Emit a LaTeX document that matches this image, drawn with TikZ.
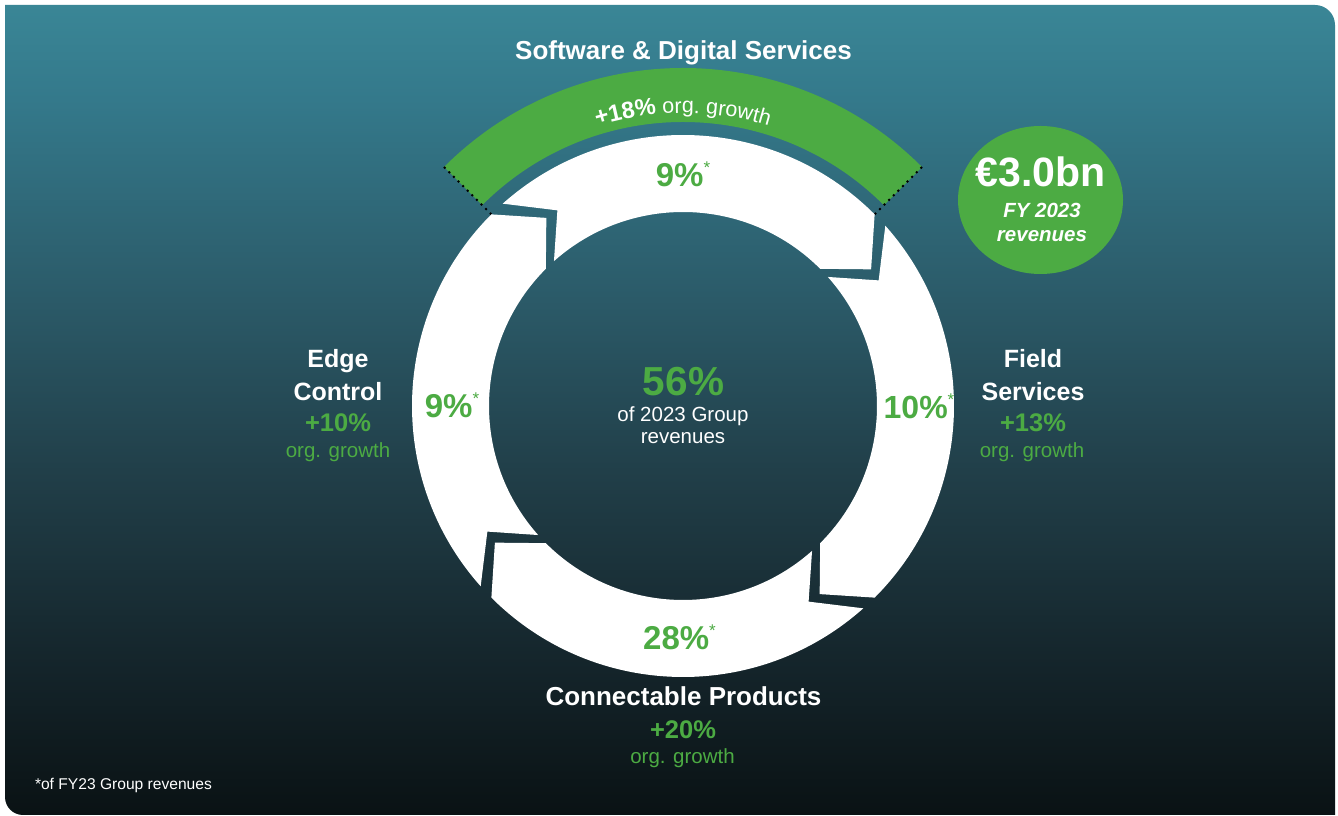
\documentclass[tikz,border=0pt]{standalone}
\usepackage{fontspec}
\setmainfont{Liberation Sans}
\usetikzlibrary{decorations.text}
\definecolor{brandgreen}{HTML}{4CAB43}
\definecolor{bgA}{HTML}{0A1214}
\definecolor{bgB}{HTML}{14242A}
\definecolor{bgC}{HTML}{213F49}
\definecolor{bgD}{HTML}{2B5A68}
\definecolor{bgE}{HTML}{34798B}
\definecolor{bgF}{HTML}{3A8696}
\pgfdeclareverticalshading{bgshade}{100bp}{color(0bp)=(bgA); color(25bp)=(bgA); color(34bp)=(bgB); color(46.25bp)=(bgC); color(56.8bp)=(bgD); color(69.2bp)=(bgE); color(75bp)=(bgF); color(100bp)=(bgF)}
\newcommand\pctstar{\raisebox{13pt}{\mdseries\fontsize{17}{17}\selectfont *}}
\tikzset{
  txt/.style={anchor=base, inner sep=0pt, outer sep=0pt},
  lbl/.style={txt, text=white, font=\bfseries\fontsize{25}{25}\selectfont},
  grw/.style={txt, text=brandgreen, font=\bfseries\fontsize{25.5}{25.5}\selectfont},
  org/.style={txt, text=brandgreen, font=\fontsize{20.5}{20.5}\selectfont},
  pct/.style={txt, text=brandgreen, font=\bfseries\fontsize{33}{33}\selectfont},
  seg/.style={fill=white},
  dots/.style={black, line width=2pt, dash pattern=on 2pt off 4.5pt}
}
\begin{document}
\begin{tikzpicture}[x=1pt,y=1pt]
\useasboundingbox (0,0) rectangle (1338,816);
\fill[white] (0,0) rectangle (1338,816);
\shade[shading=bgshade] (5,811) -- (1315,811) arc[start angle=90,end angle=0,radius=20]
  -- (1335,1) -- (23,1) arc[start angle=270,end angle=180,radius=18] -- cycle;

\begin{scope}[shift={(683,410)}]
  % green arc
  \fill[brandgreen] (135:338) arc[start angle=135,end angle=45,radius=338]
    -- (45:284) arc[start angle=45,end angle=135,radius=284] -- cycle;
  \draw[dots] (135:271) -- (135:338);
  \draw[dots] (45:271) -- (45:338);
  % ring segments (tail angle / head angle)
  \foreach \a/\b in {131.7/45, 41.7/-45, -48.3/-135, -138.3/-225}{
    \fill[seg] (\a:271) arc[start angle=\a,end angle=\b,radius=271]
      -- ({\b-9}:232.5) -- (\b:194) arc[start angle=\b,end angle=\a,radius=194]
      -- ({\a-9}:232.5) -- cycle;
  }
  % curved text
  \path[decorate, decoration={text along path, text align=center, text color=white,
    text={|\fontsize{23.5}{23.5}\selectfont\bfseries|+18{\%}|\fontsize{21.5}{21.5}\selectfont\mdseries| org. growth}}]
    (121:293) arc[start angle=121,end angle=59,radius=293];
\end{scope}

% top label
\node[lbl, font=\bfseries\fontsize{26}{26}\selectfont] (sds) at (683.5,756) {Software \& Digital Services};

% percentages on ring
\node[pct] (ptop) at (683,629) {9\%\pctstar};
\node[pct] (pleft) at (452,398) {9\%\pctstar};
\node[pct, font=\bfseries\fontsize{32}{32}\selectfont] (pright) at (919,397) {10\%\pctstar};
\node[pct] (pbot) at (679.5,166) {28\%\pctstar};

% centre
\node[txt, text=brandgreen, font=\bfseries\fontsize{40.5}{40.5}\selectfont] (c56) at (683.5,420) {56\%};
\node[txt, text=white, font=\fontsize{20.5}{20.5}\selectfont] (c1) at (683,394) {of 2023 Group};
\node[txt, text=white, font=\fontsize{20.5}{20.5}\selectfont] (c2) at (683,372) {revenues};

% Edge Control
\node[lbl] (ec1) at (338,448) {Edge};
\node[lbl] (ec2) at (338,415) {Control};
\node[grw] (ec3) at (338,384) {+10\%};
\node[org] (ec4) at (338,358) {org. growth};

% Field Services
\node[lbl] (fs1) at (1033,448) {Field};
\node[lbl] (fs2) at (1033,415) {Services};
\node[grw] (fs3) at (1033,384) {+13\%};
\node[org] (fs4) at (1032,358) {org. growth};

% Connectable Products
\node[lbl, font=\bfseries\fontsize{26}{26}\selectfont] (cp1) at (683.5,110) {Connectable Products};
\node[grw] (cp2) at (683,77) {+20\%};
\node[org] (cp3) at (682.5,52) {org. growth};

% revenue bubble
\fill[brandgreen] (1040.5,616) ellipse [x radius=82.5, y radius=74];
\node[txt, text=white, font=\bfseries\fontsize{41}{41}\selectfont] (rv1) at (1040.5,629) {€3.0bn};
\node[txt, text=white, font=\bfseries\itshape\fontsize{20.5}{20.5}\selectfont] (rv2) at (1042,598) {FY 2023};
\node[txt, text=white, font=\bfseries\itshape\fontsize{20.5}{20.5}\selectfont] (rv3) at (1042,574) {revenues};

% footnote
\node[txt, anchor=base west, text=white, font=\fontsize{15.6}{15.6}\selectfont] (fn) at (35,26) {*of FY23 Group revenues};
\end{tikzpicture}
\end{document}
